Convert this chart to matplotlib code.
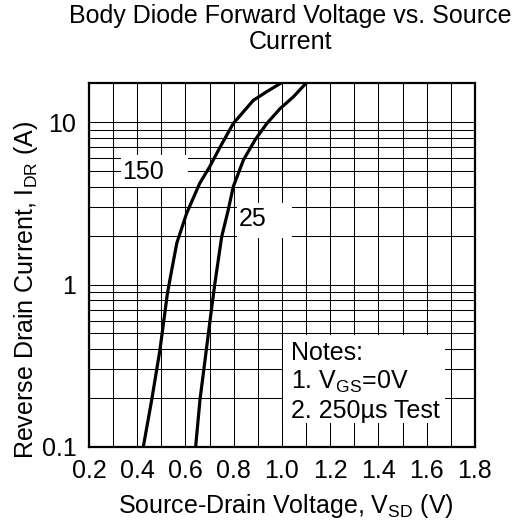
import numpy as np
import matplotlib
matplotlib.use('Agg')
import matplotlib.pyplot as plt
from matplotlib.patches import Rectangle
from matplotlib.ticker import FixedLocator, LogLocator, NullFormatter

plt.rcParams['font.family'] = ['Liberation Sans', 'DejaVu Sans']
plt.rcParams['mathtext.fontset'] = 'custom'
plt.rcParams['mathtext.rm'] = 'Liberation Sans'
plt.rcParams['mathtext.it'] = 'Liberation Sans:italic'

# Curve data: source-drain voltage (V) vs reverse drain current (A)
vsd_150 = [0.425, 0.460, 0.494, 0.525, 0.543, 0.564, 0.605, 0.659, 0.700, 0.743, 0.798, 0.881, 0.937, 0.999]
idr_150 = [0.1, 0.195, 0.395, 0.88, 1.23, 1.8, 2.75, 4.2, 5.3, 7.0, 9.8, 13.6, 15.4, 17.5]

vsd_25 = [0.642, 0.660, 0.681, 0.702, 0.722, 0.750, 0.777, 0.798, 0.840, 0.888, 0.937, 0.992, 1.047, 1.102]
idr_25 = [0.1, 0.195, 0.343, 0.605, 1.02, 1.97, 2.87, 4.0, 5.84, 7.75, 9.8, 12.1, 14.3, 17.5]

x_ticks = [0.2, 0.4, 0.6, 0.8, 1.0, 1.2, 1.4, 1.6, 1.8]
x_tick_labels = ['0.2', '0.4', '0.6', '0.8', '1.0', '1.2', '1.4', '1.6', '1.8']
y_ticks = [0.1, 1, 10]
y_tick_labels = ['0.1', '1', '10']

fs = 18

fig = plt.figure(figsize=(5.21, 5.26), dpi=100)
ax = fig.add_axes([0.1708, 0.1502, 0.7409, 0.692])

ax.set_yscale('log')
ax.set_xlim(0.2, 1.8)
ax.set_ylim(0.1, 17.4)

# grid every 0.1 V and at every log subdivision
ax.xaxis.set_minor_locator(FixedLocator(np.arange(0.3, 1.8, 0.2)))
ax.yaxis.set_minor_locator(LogLocator(base=10, subs=np.arange(2, 10)))
ax.yaxis.set_minor_formatter(NullFormatter())
ax.grid(which='both', color='black', linewidth=0.75)
ax.set_axisbelow(True)

ax.plot(vsd_150, idr_150, color='black', linewidth=2.3, zorder=4)
ax.plot(vsd_25, idr_25, color='black', linewidth=2.3, zorder=4)

ax.set_xticks(x_ticks)
ax.set_xticklabels(x_tick_labels)
ax.set_yticks(y_ticks)
ax.set_yticklabels(y_tick_labels)
ax.tick_params(which='both', length=0, labelsize=fs)
ax.tick_params(axis='x', pad=9)
ax.tick_params(axis='y', pad=9)

for s in ax.spines.values():
    s.set_linewidth(1.6)

# white label boxes that blank out the grid
for x0, y0, w, h in [(0.082, 0.714, 0.174, 0.088),
                     (0.383, 0.574, 0.142, 0.096),
                     (0.503, 0.066, 0.419, 0.242)]:
    ax.add_patch(Rectangle((x0, y0), w, h, transform=ax.transAxes,
                           facecolor='white', edgecolor='none', zorder=2))

ax.text(0.422, 4.92, '150', fontsize=fs, va='center', ha='center', zorder=3)
ax.text(0.878, 2.53, '25', fontsize=fs, va='center', ha='center', zorder=3)
ax.text(1.036, 0.251, 'Notes:\n1. V$_{\\mathrm{GS}}$=0V\n2. 250\u00b5s Test', fontsize=fs,
        va='center', ha='left', linespacing=1.2, zorder=3)

fig.text(285.5 / 521, 1 - 506 / 526, 'Source-Drain Voltage, V$_{\\mathrm{SD}}$ (V)',
         fontsize=fs, ha='center', va='center')
fig.text(26 / 521, 1 - 290 / 526, 'Reverse Drain Current, I$_{\\mathrm{DR}}$ (A)',
         fontsize=fs, ha='center', va='center', rotation=90)
fig.text(290.5 / 521, 1 - 29 / 526, 'Body Diode Forward Voltage vs. Source\nCurrent',
         fontsize=fs, ha='center', va='center', linespacing=1.1)

fig.savefig('out.png', dpi=100)
